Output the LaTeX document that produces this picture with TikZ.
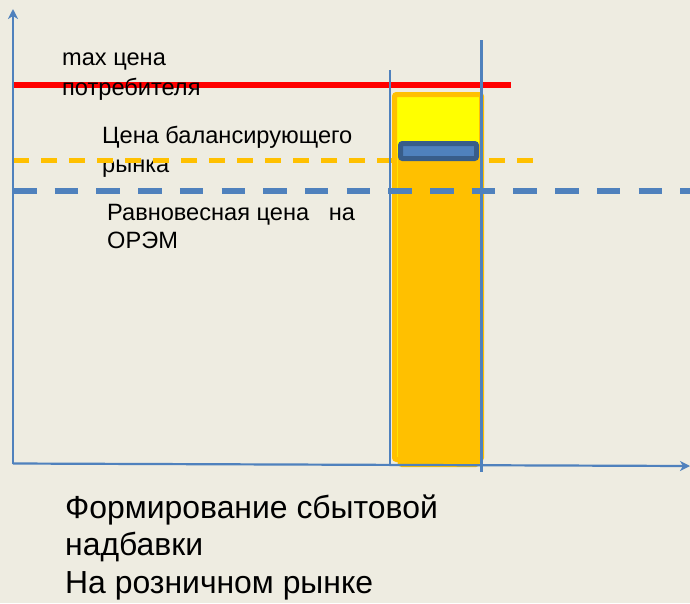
\documentclass[tikz,border=0pt]{standalone}
\usepackage{fontspec}
\setmainfont{Liberation Sans}
\usetikzlibrary{arrows.meta}
\definecolor{bg}{HTML}{EEECE1}
\definecolor{axisblue}{HTML}{4F81BD}
\definecolor{darkblue}{HTML}{385D8A}
\definecolor{orng}{HTML}{FFC000}
\definecolor{yel}{HTML}{FFFF00}
\definecolor{redl}{HTML}{FF0000}
\begin{document}
\begin{tikzpicture}[x=1pt,y=-1pt,
  axis/.style={draw=axisblue,line width=2.2pt,-{Stealth[length=10pt,width=10pt,inset=3pt]}},
  guide/.style={draw=axisblue,line width=2.2pt},
  lbl/.style={anchor=base west,inner sep=0pt,font=\fontsize{23.6}{28}\selectfont,text=black},
  big/.style={anchor=base west,inner sep=0pt,font=\fontsize{31.9}{38}\selectfont,text=black},
  orangedash/.style={draw=orng,line width=4.2pt,dash pattern=on 15.7pt off 12.3pt},
  bluedash/.style={draw=axisblue,line width=5.6pt,dash pattern=on 23.5pt off 18.2pt},
  redline/.style={draw=redl,line width=5.2pt},
]
\fill[bg] (0,0) rectangle (690,603);
\useasboundingbox (0,0) rectangle (690,603);

% labels under the dashed line
\node[lbl] (bal1) at (102,143) {Цена балансирующего};
\node[lbl] (bal2) at (102,172) {рынка};

% orange dashed (behind bar)
\coordinate (od1) at (13,160.5);
\coordinate (od2) at (534,160.5);
\draw[orangedash] (od1) -- (od2);

% bar
\draw[draw=orng,fill=yel,line width=5pt,rounded corners=2pt] (394.5,94.5) rectangle (481.5,459.5);
\fill[orng,rounded corners=4pt] (397.5,150) rectangle (480,467);
\draw[draw=darkblue,fill=axisblue,line width=5pt,rounded corners=2pt] (400.5,143.5) rectangle (476.5,158.5);

% blue dashed
\coordinate (bd1) at (13,191);
\coordinate (bd2) at (692,191);
\draw[bluedash] (bd1) -- (bd2);

% red line
\coordinate (r1) at (13,85);
\coordinate (r2) at (511,85);
\draw[redline] (r1) -- (r2);

% guides
\coordinate (g1a) at (390,70);
\coordinate (g1b) at (390,464);
\coordinate (g2a) at (481.5,40);
\coordinate (g2b) at (481.5,472);
\draw[guide] (g1a) -- (g1b);
\draw[guide] (g2a) -- (g2b);

% axes
\coordinate (O) at (13,463.5);
\coordinate (ytop) at (13,9);
\coordinate (xend) at (690,466);
\draw[axis] (O) -- (ytop);
\draw[axis] (O) -- (xend);

% labels
\node[lbl] (max1) at (62,65) {max цена};
\node[lbl] (max2) at (62,95) {потребителя};
\node[lbl] (eq1) at (107,220) {Равновесная цена \ \ на};
\node[lbl] (eq2) at (107,248) {ОРЭМ};

\node[big] (t1) at (65,518) {Формирование сбытовой};
\node[big] (t2) at (65,555.5) {надбавки};
\node[big] (t3) at (65,593) {На розничном рынке};
\end{tikzpicture}
\end{document}
